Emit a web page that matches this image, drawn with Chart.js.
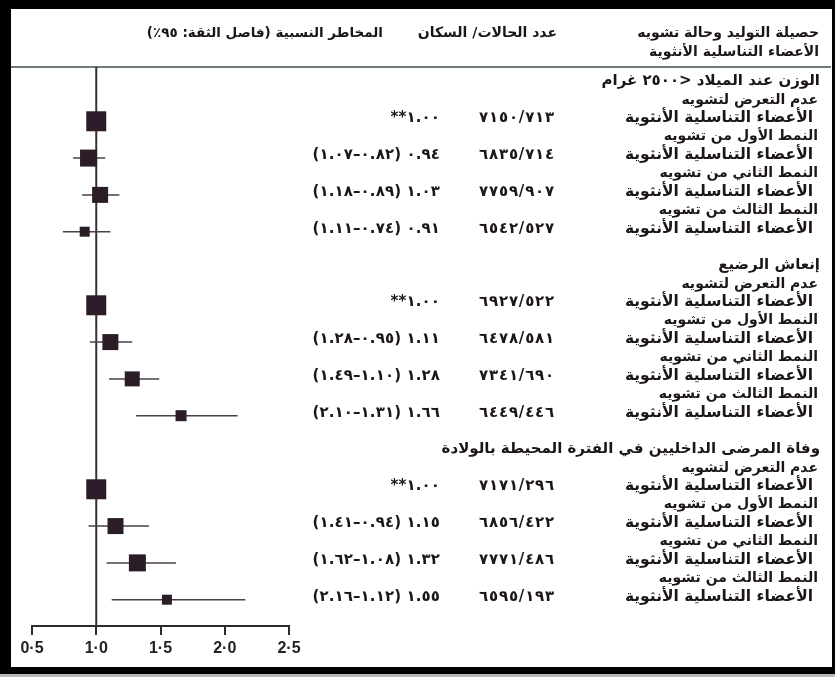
<!DOCTYPE html>
<html lang="ar">
<head>
<meta charset="utf-8">
<title>حصيلة التوليد وحالة تشويه الأعضاء التناسلية الأنثوية</title>
<script src="https://cdn.jsdelivr.net/npm/chart.js@4.4.1/dist/chart.umd.min.js"></script>
<style>
  html, body { margin: 0; padding: 0; background: #000; }
  #wrap { width: 835px; height: 677px; position: relative; }
  canvas { display: block; }
</style>
</head>
<body>
<div id="wrap"><canvas id="forest" width="835" height="677"></canvas></div>
<script>
// Outcomes (section titles) and exposure groups
const outcomes = [
  'الوزن عند الميلاد <٢٥٠٠ غرام',
  'إنعاش الرضيع',
  'وفاة المرضى الداخليين في الفترة المحيطة بالولادة'
];
const exposures = [
  'عدم التعرض لتشويه',
  'النمط الأول من تشويه',
  'النمط الثاني من تشويه',
  'النمط الثالث من تشويه'
];
const rowLabel = 'الأعضاء التناسلية الأنثوية';

// One entry per outcome × exposure
const cases      = [713, 714, 907, 527,   522, 581, 690, 446,   296, 422, 486, 193];
const population = [7150, 6835, 7759, 6542, 6927, 6478, 7341, 6449, 7171, 6856, 7771, 6595];
const relRisk    = [1.00, 0.94, 1.03, 0.91, 1.00, 1.11, 1.28, 1.66, 1.00, 1.15, 1.32, 1.55];
const ciLow      = [null, 0.82, 0.89, 0.74, null, 0.95, 1.10, 1.31, null, 0.94, 1.08, 1.12];
const ciHigh     = [null, 1.07, 1.18, 1.11, null, 1.28, 1.49, 2.10, null, 1.41, 1.62, 2.16];

// Axis tick labels
const tickValues = [0.5, 1.0, 1.5, 2.0, 2.5];
const tickLabels = ['0·5', '1·0', '1·5', '2·0', '2·5'];

// Header texts
const headTitle = ['حصيلة التوليد وحالة تشويه', 'الأعضاء التناسلية الأنثوية'];
const headCounts = 'عدد الحالات/ السكان';
const headRisk = 'المخاطر النسبية (فاصل الثقة: ٩٥٪)';

// ---- styles ----
const INK = '#1c1619';
const BOX = '#2b1d27';
const boxSide = [20, 17, 16, 10, 20, 16, 15, 11, 20, 16, 17, 10];
const HEAD_FONT = 'bold 14px "DejaVu Sans"';
const RISK_HEAD_FONT = 'bold 13.5px "DejaVu Sans"';
const TITLE_FONT = 'bold 15px "DejaVu Sans"';
const SUB_FONT = 'bold 14px "DejaVu Sans"';
const ROW_FONT = 'bold 15.5px "DejaVu Sans"';
const NUM_FONT = 'bold 15px "DejaVu Sans"';
const TEXT_SHIFT = -3;           // text sits a little above the marker row

// Arabic-Indic digits
const AR_DIGITS = '٠١٢٣٤٥٦٧٨٩';
function arNum(v, dec) {
  const s = dec == null ? String(v) : v.toFixed(dec);
  return s.replace(/[0-9]/g, d => AR_DIGITS[+d]);
}

// Build the list of text lines (rows of the table)
const lines = [];      // {text, kind, item}
const itemLine = [];   // line index of each data item
outcomes.forEach((title, o) => {
  if (o > 0) lines.push({ kind: 'blank' });
  lines.push({ kind: 'title', text: title });
  exposures.forEach((ex, e) => {
    lines.push({ kind: 'sub', text: ex });
    const k = o * exposures.length + e;
    itemLine[k] = lines.length;
    lines.push({ kind: 'row', text: rowLabel, item: k });
  });
});

const points = relRisk.map((rr, k) => ({ x: rr, y: itemLine[k] }));

const forestPlugin = {
  id: 'forestPlugin',
  beforeDraw(chart) {
    const { ctx, width, height } = chart;
    ctx.save();
    ctx.fillStyle = '#000';
    ctx.fillRect(0, 0, width, height);
    ctx.fillStyle = '#fff';
    ctx.fillRect(11, 9, 821, 658);
    ctx.fillStyle = '#b9b9b9';
    ctx.fillRect(0, 674, width, 3);
    ctx.restore();
  },
  beforeDatasetsDraw(chart) {
    const { ctx, chartArea } = chart;
    const xs = chart.scales.x, ys = chart.scales.y;
    ctx.save();
    // rule under the header
    ctx.strokeStyle = '#6f7d71';
    ctx.lineWidth = 2;
    ctx.beginPath();
    ctx.moveTo(11, chartArea.top);
    ctx.lineTo(831, chartArea.top);
    ctx.stroke();
    // line of no effect
    const x1 = xs.getPixelForValue(1);
    ctx.strokeStyle = '#3a2f36';
    ctx.lineWidth = 2;
    ctx.beginPath();
    ctx.moveTo(x1, chartArea.top);
    ctx.lineTo(x1, chartArea.bottom);
    ctx.stroke();
    // confidence intervals
    ctx.strokeStyle = '#4a4047';
    ctx.lineWidth = 1.5;
    relRisk.forEach((rr, k) => {
      if (ciLow[k] == null) return;
      const y = ys.getPixelForValue(itemLine[k]);
      ctx.beginPath();
      ctx.moveTo(xs.getPixelForValue(ciLow[k]), y);
      ctx.lineTo(xs.getPixelForValue(ciHigh[k]), y);
      ctx.stroke();
    });
    ctx.restore();
  },
  afterDraw(chart) {
    const { ctx } = chart;
    const ys = chart.scales.y;
    ctx.save();
    ctx.fillStyle = INK;
    ctx.textBaseline = 'middle';

    const rtl = (txt, x, y, font) => {
      ctx.direction = 'rtl'; ctx.textAlign = 'right'; ctx.font = font;
      ctx.fillText(txt, x, y);
    };
    // numeric cells: pieces laid out left to right in the given order,
    // each piece drawn on its own so no bidi reordering can occur
    const pieces = (parts, xRight, y, gap) => {
      ctx.direction = 'ltr'; ctx.textAlign = 'left'; ctx.font = NUM_FONT;
      const widths = parts.map(p => ctx.measureText(p).width + gap);
      let x = xRight - widths.reduce((a, b) => a + b, 0);
      parts.forEach((p, j) => { ctx.fillText(p, x, y); x += widths[j]; });
    };
    const digits = s => s.split('');

    // headers, one and two lines above the first table line
    const hy1 = ys.getPixelForValue(-2.6) + TEXT_SHIFT;
    const hy2 = ys.getPixelForValue(-1.6) + TEXT_SHIFT;
    rtl(headTitle[0], 819, hy1, HEAD_FONT);
    rtl(headTitle[1], 819, hy2, HEAD_FONT);
    rtl(headCounts, 557, hy1, HEAD_FONT);
    rtl(headRisk, 383, hy1, RISK_HEAD_FONT);

    lines.forEach((ln, i) => {
      if (ln.kind === 'blank') return;
      const y = ys.getPixelForValue(i) + TEXT_SHIFT;
      if (ln.kind === 'title') rtl(ln.text, 820, y, TITLE_FONT);
      else if (ln.kind === 'sub') rtl(ln.text, 818, y, SUB_FONT);
      else {
        const k = ln.item;
        rtl(ln.text, 813, y, ROW_FONT);
        // population / cases
        pieces([...digits(arNum(population[k])), '/', ...digits(arNum(cases[k]))], 555, y, 0.8);
        // relative risk with its interval: (upper – lower) estimate
        let parts;
        if (ciLow[k] == null) parts = ['*', '*', ...digits(arNum(relRisk[k], 2))];
        else parts = ['(', ...digits(arNum(ciHigh[k], 2)), '–', ...digits(arNum(ciLow[k], 2)), ')', ' ',
                      ...digits(arNum(relRisk[k], 2))];
        pieces(parts, 440, y, 0.1);
      }
    });
    ctx.restore();
  }
};

new Chart(document.getElementById('forest'), {
  type: 'scatter',
  data: {
    datasets: [{
      data: points,
      pointStyle: 'rect',
      pointRadius: boxSide.map(s => s / Math.SQRT2),
      pointHoverRadius: boxSide.map(s => s / Math.SQRT2),
      backgroundColor: BOX,
      borderColor: BOX,
      borderWidth: 0
    }]
  },
  options: {
    responsive: false,
    animation: false,
    events: [],
    layout: { padding: { left: 32, right: 546, top: 67, bottom: 0 } },
    plugins: { legend: { display: false }, tooltip: { enabled: false } },
    scales: {
      x: {
        type: 'linear',
        min: 0.5,
        max: 2.5,
        afterBuildTicks: s => { s.ticks = tickValues.map(v => ({ value: v })); },
        afterFit: s => { s.height = 51; },
        border: { display: true, color: '#2e2a2c', width: 2 },
        grid: { drawOnChartArea: false, drawTicks: true, tickLength: 9, color: '#2e2a2c', lineWidth: 2 },
        ticks: {
          padding: 4,
          color: '#222',
          font: { family: '"Liberation Sans"', size: 16, weight: 'bold' },
          callback: (v, i) => tickLabels[i]
        }
      },
      y: {
        type: 'linear',
        display: false,
        reverse: true,
        min: -0.95,
        max: 29.43
      }
    }
  },
  plugins: [forestPlugin]
});
</script>
</body>
</html>
